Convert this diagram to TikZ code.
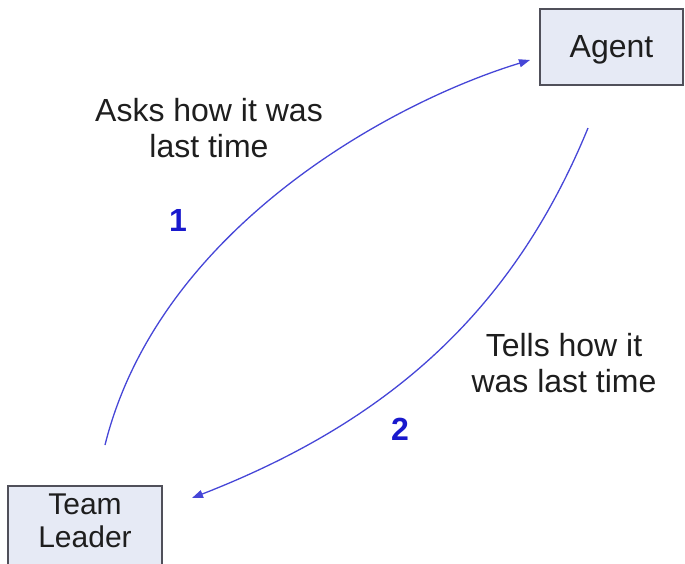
\documentclass[tikz,border=0pt]{standalone}
\usepackage{fontspec}
\setmainfont{Liberation Sans}
\usetikzlibrary{arrows.meta}

\definecolor{boxfill}{RGB}{230,234,245}
\definecolor{boxline}{RGB}{80,80,90}
\definecolor{flowblue}{RGB}{70,70,215}
\definecolor{stepblue}{RGB}{25,25,205}
\definecolor{ink}{RGB}{30,30,30}

\tikzset{
  actor/.style={draw=boxline, line width=1.2pt, fill=boxfill, inner sep=0pt,
    text=ink, align=center},
  caption/.style={text=ink, align=center, inner sep=0pt,
    font=\fontsize{32}{36}\selectfont},
  stepno/.style={text=stepblue, inner sep=0pt,
    font=\fontsize{32}{36}\selectfont\bfseries},
  flow/.style={draw=flowblue, line width=1.3pt,
    -{Triangle[length=11pt,width=8pt]}}
}

\begin{document}
\begin{tikzpicture}[x=1pt,y=-1pt]
  \useasboundingbox (0,0) rectangle (685,563);

  % the two parties
  \node[actor, minimum width=143pt, minimum height=76pt,
        font=\fontsize{32}{36}\selectfont, text height=24pt, text depth=4pt]
        (agent) at (611.5,47) {Agent};
  \node[actor, minimum width=154pt, minimum height=84pt,
        font=\fontsize{30}{33}\selectfont, text depth=14.5pt]
        (leader) at (85,528) {Team\\Leader};

  % free ends of the two messages
  \coordinate (askfrom) at (105,445);
  \coordinate (askto)   at (530,60);
  \coordinate (tellfrom) at (588,128);
  \coordinate (tellto)   at (192,498);

  % message 1: team leader asks the agent
  \draw[flow] (askfrom) .. controls (158,232) and (386,104) .. (askto);
  % message 2: agent answers the team leader
  \draw[flow] (tellfrom) .. controls (512,313) and (387,422) .. (tellto);

  % captions and step numbers
  \node[caption] (asks)  at (209,128.5) {Asks how it was\\last time};
  \node[caption] (tells) at (564,363.5) {Tells how it\\was last time};
  \node[stepno] (one) at (178,220) {1};
  \node[stepno] (two) at (400,429) {2};
\end{tikzpicture}
\end{document}
